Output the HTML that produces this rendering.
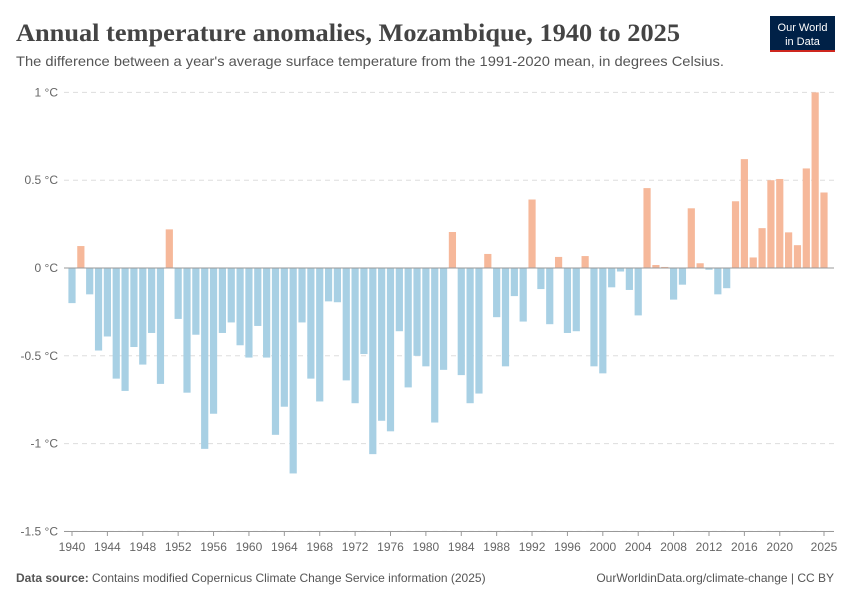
<!DOCTYPE html>
<html><head><meta charset="utf-8"><style>
body{margin:0;background:#fff;font-family:"Liberation Sans",sans-serif;}
svg text{font-family:"Liberation Sans",sans-serif;}
</style></head><body>
<svg width="850" height="600" viewBox="0 0 850 600">
<text x="16" y="41" font-size="25" font-weight="bold" fill="#444" textLength="664" lengthAdjust="spacingAndGlyphs" style="font-family:'Liberation Serif',serif">Annual temperature anomalies, Mozambique, 1940 to 2025</text>
<text x="16" y="66" font-size="14" fill="#555" textLength="708" lengthAdjust="spacingAndGlyphs">The difference between a year's average surface temperature from the 1991-2020 mean, in degrees Celsius.</text>
<g>
<rect x="770" y="16" width="65" height="36" fill="#002147"/>
<rect x="770" y="50" width="65" height="2" fill="#ce261e"/>
<text x="802.5" y="31" font-size="11" fill="#fff" text-anchor="middle">Our World</text>
<text x="802.5" y="45" font-size="11" fill="#fff" text-anchor="middle">in Data</text>
</g>
<g id="grid"></g>
<g id="bars"></g>
<g id="axes"></g>
<text x="16" y="582" font-size="12" fill="#555"><tspan font-weight="bold">Data source:</tspan> Contains modified Copernicus Climate Change Service information (2025)</text>
<text x="834" y="582" font-size="12" fill="#555" text-anchor="end">OurWorldinData.org/climate-change | CC BY</text>
</svg>
<script>
const years = [];
for (let y = 1940; y <= 2025; y++) years.push(y);
const anomalies = [-0.20,0.125,-0.15,-0.47,-0.39,-0.63,-0.70,-0.45,-0.55,-0.37,
-0.66,0.22,-0.29,-0.71,-0.38,-1.03,-0.83,-0.37,-0.31,-0.44,
-0.51,-0.33,-0.51,-0.95,-0.79,-1.17,-0.31,-0.63,-0.76,-0.19,
-0.195,-0.64,-0.77,-0.49,-1.06,-0.87,-0.93,-0.36,-0.68,-0.50,
-0.56,-0.88,-0.58,0.205,-0.61,-0.77,-0.715,0.08,-0.28,-0.56,
-0.16,-0.305,0.39,-0.12,-0.32,0.063,-0.37,-0.36,0.068,-0.56,
-0.60,-0.11,-0.02,-0.125,-0.27,0.455,0.017,0.006,-0.18,-0.095,
0.34,0.027,-0.01,-0.15,-0.115,0.38,0.62,0.06,0.227,0.50,
0.507,0.203,0.13,0.567,1.00,0.43];
const yTicks = [1,0.5,0,-0.5,-1,-1.5];
const yTickLabels = ["1 °C","0.5 °C","0 °C","-0.5 °C","-1 °C","-1.5 °C"];
const xTickYears = [1940,1944,1948,1952,1956,1960,1964,1968,1972,1976,1980,1984,1988,1992,1996,2000,2004,2008,2012,2016,2020,2025];

const NS="http://www.w3.org/2000/svg";
const x0=72, x1=824, yZero=268, pxPerDeg=175.6;
const xs = yr => x0 + (yr-1940)*(x1-x0)/(2025-1940);
const ys = v => yZero - v*pxPerDeg;
function mk(tag, attrs, parent){const e=document.createElementNS(NS,tag);for(const k in attrs)e.setAttribute(k,attrs[k]);parent.appendChild(e);return e;}
const grid=document.getElementById('grid'), bars=document.getElementById('bars'), axes=document.getElementById('axes');
yTicks.forEach((t,i)=>{
  if(t!==0){const l=mk('line',{x1:64,x2:834,y1:ys(t),y2:ys(t),stroke:'#ddd','stroke-dasharray':'5,4'},grid);
  
  }
  const tx=mk('text',{x:58,y:ys(t)+4,'font-size':12,fill:'#666','text-anchor':'end'},axes);
  tx.textContent=yTickLabels[i];
  
  
});
years.forEach((yr,i)=>{
  const v=anomalies[i];
  const r=mk('rect',{x:xs(yr)-3.6,width:7.2,y:Math.min(ys(v),yZero),height:Math.abs(ys(v)-yZero),fill:v>=0?'#f6b89a':'#a8d0e4'},bars);
  
  
});
const zl=mk('line',{x1:64,x2:834,y1:yZero,y2:yZero,stroke:'#999','stroke-width':1},axes);


const xa=mk('line',{x1:64,x2:834,y1:531.5,y2:531.5,stroke:'#999'},axes);


xTickYears.forEach(yr=>{
  const tk=mk('line',{x1:xs(yr),x2:xs(yr),y1:531,y2:536,stroke:'#999'},axes);
  
  
  const tx=mk('text',{x:xs(yr),y:551,'font-size':12,fill:'#666','text-anchor':'middle'},axes);
  tx.textContent=yr;
  
  
});
</script>
</body></html>
